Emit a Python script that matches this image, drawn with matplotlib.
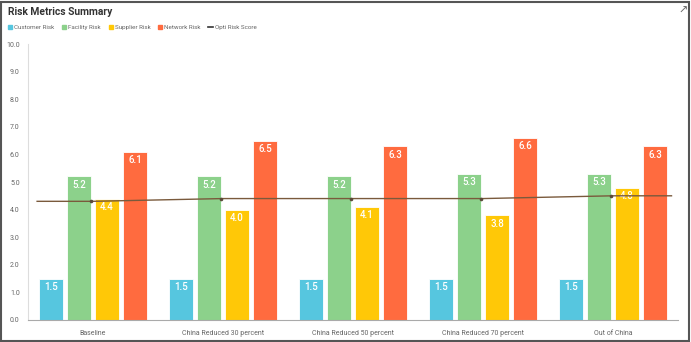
import numpy as np
import matplotlib.pyplot as plt
from matplotlib.lines import Line2D
from matplotlib.patches import Rectangle

plt.rcParams['font.family'] = ['Roboto', 'DejaVu Sans']

categories = ['Baseline', 'China Reduced 30 percent', 'China Reduced 50 percent',
              'China Reduced 70 percent', 'Out of China']
customer = [1.5, 1.5, 1.5, 1.5, 1.5]
facility = [5.2, 5.2, 5.2, 5.3, 5.3]
supplier = [4.4, 4.0, 4.1, 3.8, 4.8]
network = [6.1, 6.5, 6.3, 6.6, 6.3]
opti = [4.3, 4.4, 4.4, 4.4, 4.5]

series = [('Customer Risk', customer, '#56C6DF'),
          ('Facility Risk', facility, '#8CD18B'),
          ('Supplier Risk', supplier, '#FFC807'),
          ('Network Risk', network, '#FF6B3F')]
line_color = '#7A5A3C'

fig = plt.figure(figsize=(6.91, 3.42), dpi=100)
ax = fig.add_axes([28 / 691, 22 / 342, 650 / 691, 276 / 342])

x = np.arange(len(categories))
width = 0.19
step = 0.215
for i, (name, vals, col) in enumerate(series):
    pos = x + (i - 1.5) * step
    bars = ax.bar(pos, vals, width, color=col, edgecolor='white', linewidth=0.6)
    for b, v in zip(bars, vals):
        ax.text(b.get_x() + b.get_width() / 2, v - 0.13, f'{v:.1f}', ha='center', va='top',
                color='white', fontsize=7, fontweight='medium')

# opti risk line, stretched flat to the plot edges
lx = np.concatenate([[x[0] - 0.43], x, [x[-1] + 0.45]])
ly = np.concatenate([[opti[0]], opti, [opti[-1]]])
ax.plot(lx, ly, color=line_color, linewidth=1.0, zorder=5)
ax.plot(x - 0.015, opti, 'o', color='#5a4a3a', markersize=1.6, zorder=6)

ax.set_xlim(-0.5, len(categories) - 0.5)
ax.set_ylim(0, 10)
ax.set_yticks(np.arange(0, 10.1, 1))
ax.set_yticklabels([f'{v:.1f}' for v in np.arange(0, 10.1, 1)])
ax.set_xticks(x)
ax.set_xticklabels(categories)
ax.tick_params(axis='both', length=0, labelsize=5, colors='#666666')
ax.tick_params(axis='x', pad=7)
ax.tick_params(axis='y', pad=6)
for s in ['top', 'right']:
    ax.spines[s].set_visible(False)
ax.spines['left'].set_color('#dddddd')
ax.spines['bottom'].set_color('#aaaaaa')

fig.text(8 / 691, 1 - 12 / 342, 'Risk Metrics Summary', fontsize=7.4, fontweight='bold',
         color='#333333', va='center', ha='left')
fig.text(683 / 691, 1 - 11 / 342, '\u2197', fontsize=8, color='#666666', va='center', ha='center',
         family='DejaVu Sans')

handles = [Line2D([], [], marker='s', linestyle='', color=c, markersize=3.2) for _, _, c in series]
handles.append(Line2D([], [], color='#333333', linewidth=1.2))
labels = [s[0] for s in series] + ['Opti Risk Score']
fig.legend(handles, labels, loc='center left', bbox_to_anchor=(2 / 691, 1 - 27 / 342), ncol=5,
           frameon=False, fontsize=4.5, handlelength=0.8, handletextpad=0.3, columnspacing=1.1,
           labelcolor='#666666')

fig.add_artist(Rectangle((1 / 691, 1 / 342), 688 / 691, 339 / 342, transform=fig.transFigure,
                         fill=False, edgecolor='#555555', linewidth=1.5))

fig.savefig('out.png', dpi=100)
